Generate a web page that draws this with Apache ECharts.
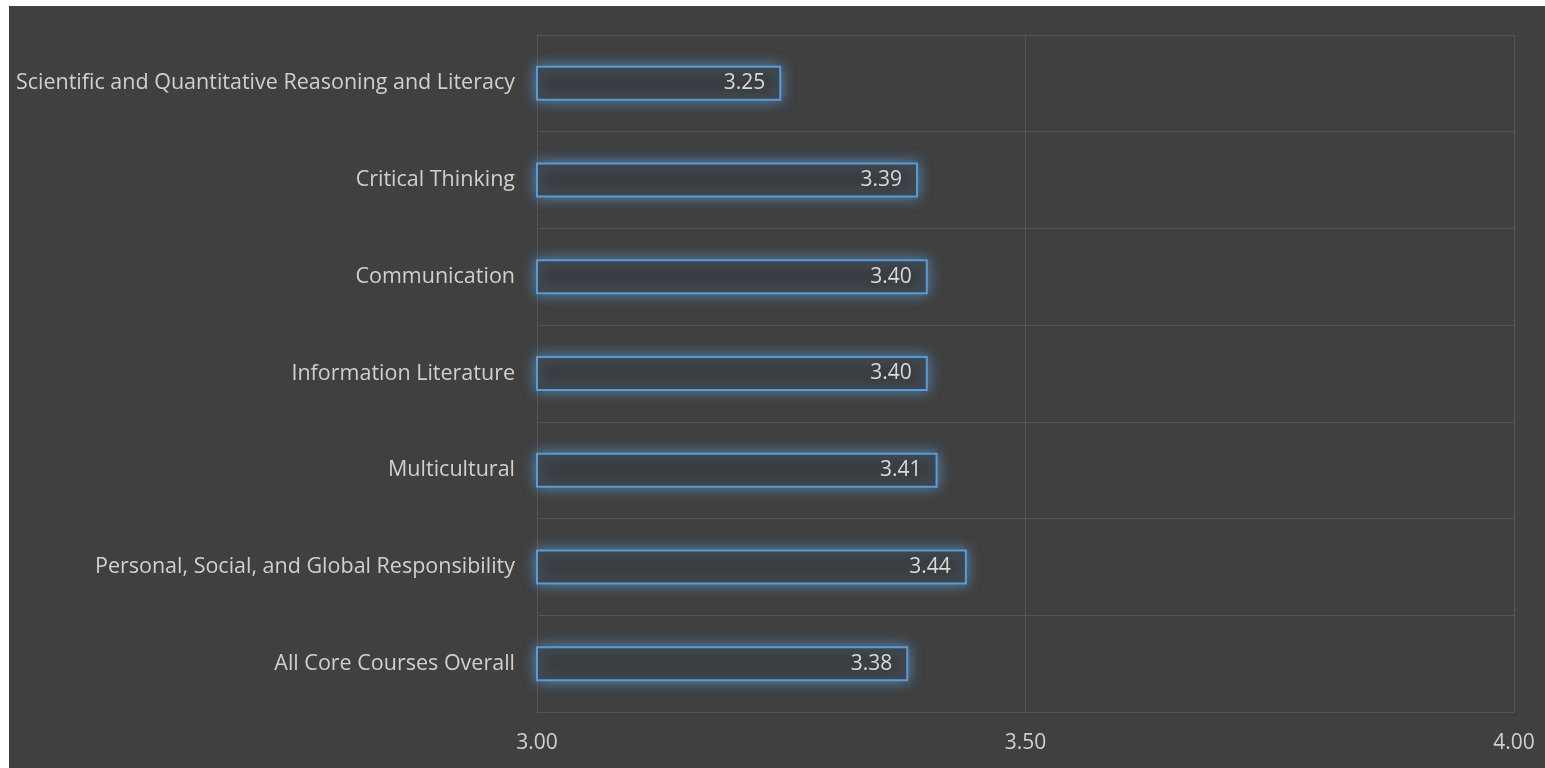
<!DOCTYPE html>
<html>
<head>
<meta charset="utf-8">
<script src="https://cdn.jsdelivr.net/npm/echarts@6/dist/echarts.min.js"></script>
<style>
html,body{margin:0;padding:0;background:#ffffff;width:1545px;height:768px;overflow:hidden;}
#chart{position:absolute;left:9px;top:6px;width:1536px;height:762px;background:#404040;}
</style>
</head>
<body>
<div id="chart"></div>
<script>
const categories = [
  "All Core Courses Overall",
  "Personal, Social, and Global Responsibility",
  "Multicultural",
  "Information Literature",
  "Communication",
  "Critical Thinking",
  "Scientific and Quantitative Reasoning and Literacy"
];
const values = [3.38, 3.44, 3.41, 3.40, 3.40, 3.39, 3.25];
const xTicks = [3.00, 3.50, 4.00];

const chart = echarts.init(document.getElementById('chart'));
const font = '"Open Sans", sans-serif';
chart.setOption({
  backgroundColor: '#404040',
  animation: false,
  grid: {left: 528, right: 31, top: 29, bottom: 56, containLabel: false},
  xAxis: {
    type: 'value',
    min: xTicks[0],
    max: xTicks[xTicks.length - 1],
    interval: 0.5,
    axisLine: {show: false},
    axisTick: {show: false},
    axisLabel: {color: '#d0d0d0', fontSize: 21, fontFamily: font, margin: 21,
      formatter: v => v.toFixed(2)},
    splitLine: {show: true, lineStyle: {color: '#555555', width: 1}}
  },
  yAxis: {
    type: 'category',
    data: categories,
    axisLine: {show: false},
    axisTick: {show: false},
    axisLabel: {color: '#d0d0d0', fontSize: 21.5, fontFamily: font, margin: 22,
      padding: [4, 0, 0, 0]},
    splitLine: {show: true, lineStyle: {color: '#555555', width: 1}},
    boundaryGap: true
  },
  series: [{
    type: 'bar',
    data: values,
    barWidth: 35,
    itemStyle: {
      color: '#3b3d40',
      borderColor: '#5b9bd5',
      borderWidth: 2,
      shadowColor: 'rgba(91,155,213,0.8)',
      shadowBlur: 14
    },
    label: {
      show: true,
      position: 'insideRight',
      distance: 16,
      color: '#d9d9d9',
      fontSize: 21,
      fontFamily: font,
      padding: [4, 0, 0, 0],
      formatter: p => p.value.toFixed(2)
    }
  }]
});
</script>
</body>
</html>
